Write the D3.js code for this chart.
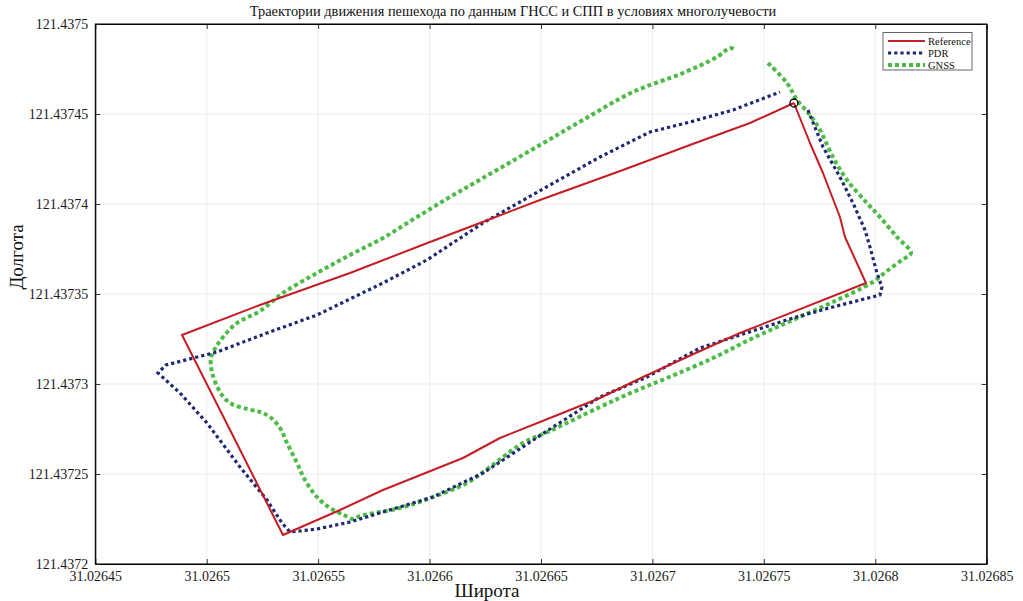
<!DOCTYPE html>
<html><head><meta charset="utf-8">
<script src="https://cdn.jsdelivr.net/npm/d3@7"></script>
<style>html,body{margin:0;padding:0;background:#fff;}svg{display:block;}</style>
</head><body>
<svg id="c" width="1023" height="601"></svg>
<script>
const xTicks = [31.02645, 31.0265, 31.02655, 31.0266, 31.02665, 31.0267, 31.02675, 31.0268, 31.02685];
const xTickLabels = ["31.02645","31.0265","31.02655","31.0266","31.02665","31.0267","31.02675","31.0268","31.02685"];
const yTicks = [121.4372, 121.43725, 121.4373, 121.43735, 121.4374, 121.43745, 121.4375];
const yTickLabels = ["121.4372","121.43725","121.4373","121.43735","121.4374","121.43745","121.4375"];
const seriesNames = ["Reference", "PDR", "GNSS"];

const refLat = [31.02676351,31.02677069,31.02677653,31.02678415,31.0267864,31.02679582,31.02673928,31.0267155,31.02669576,31.02667646,31.02665403,31.02663159,31.02661499,31.02657909,31.0265598,31.02653422,31.0265082,31.0264889,31.0265239,31.02656429,31.02660018,31.02662262,31.02664954,31.02668678,31.02671685,31.02674377,31.02676351];
const refLon = [121.43745611,121.43743389,121.43741722,121.43739278,121.43738167,121.43735611,121.43732833,121.437315,121.43730389,121.43729222,121.43728111,121.437270,121.43725889,121.43724111,121.437230,121.43721611,121.43728,121.43732722,121.43734389,121.43736167,121.43737889,121.43738944,121.43740222,121.43741889,121.43743278,121.437445,121.43745611];

const pdrLat = [31.02676979,31.02677653,31.02678415,31.02678999,31.02679537,31.02679762,31.02680076,31.026803,31.0268021,31.02678101,31.02676306,31.02673928,31.02672134,31.02669755,31.02667646,31.02665403,31.02663159,31.02662397,31.02660153,31.02657909,31.02656429,31.02654948,31.02654185,31.02653736,31.02653377,31.02652704,31.02651493,31.02650012,31.02648801,31.02647813,31.02648172,31.02650461,31.02652704,31.02654948,31.02657909,31.02659884,31.02662397,31.02665403,31.02667646,31.0266989,31.02671685,31.02673614,31.02675723];
const pdrLon = [121.43745222,121.43743167,121.437415,121.43740056,121.43738556,121.43737611,121.43736167,121.43735389,121.43734944,121.43734278,121.43733667,121.43732722,121.43732,121.43730389,121.43729278,121.437275,121.43725667,121.43725056,121.43723722,121.43722889,121.43722333,121.43721944,121.43721833,121.43721778,121.43722278,121.43723556,121.43725389,121.43727833,121.437295,121.43730611,121.43731056,121.43731778,121.43732833,121.43733833,121.43735611,121.43736889,121.43738944,121.43741056,121.43742611,121.43744,121.43744556,121.43745222,121.43746222];

const gnssLat = [31.02675185,31.02676038,31.02676486,31.02677069,31.02677518,31.02678101,31.0267873,31.02679627,31.0268021,31.02680973,31.02681601,31.02681198,31.02680524,31.02679896,31.02678101,31.02676306,31.02674512,31.02672717,31.02670653,31.02669127,31.02667646,31.02665403,31.02664191,31.02662711,31.02661679,31.02660153,31.02658672,31.02656877,31.02656563,31.02656159,31.02655531,31.02654948,31.0265441,31.02654051,31.02653602,31.02653288,31.02652839,31.0265239,31.02651807,31.02651044,31.02650595,31.02650236,31.02650192,31.02650416,31.02650775,31.02651358,31.0265239,31.02653422,31.02654948,31.02656429,31.02657909,31.02659435,31.02660916,31.02662397,31.02664954,31.02666884,31.02669127,31.02671371,31.02672896,31.0267348,31.02673704];
const gnssLon = [121.43747833,121.43746722,121.43745778,121.43744944,121.43744111,121.43742611,121.43741333,121.43740056,121.43739278,121.43738167,121.43737278,121.43736889,121.43736278,121.43735667,121.43734556,121.43733556,121.43732556,121.43731444,121.43730333,121.43729556,121.43728722,121.43727389,121.43726722,121.43725389,121.437245,121.43723722,121.43723111,121.43722667,121.437225,121.43722722,121.43723111,121.43723722,121.43724667,121.43725611,121.43726722,121.43727556,121.43728167,121.43728444,121.43728611,121.43728944,121.43729556,121.43730667,121.43731444,121.43732056,121.43732667,121.43733389,121.43734056,121.43735056,121.43736167,121.43737167,121.43738111,121.43739278,121.43740389,121.43741444,121.43743278,121.43744667,121.43746222,121.43747278,121.43748167,121.43748667,121.43748556];

const startLat = [31.02676351];
const startLon = [121.43745611];

const svg = d3.select("#c");
const L = 95.3, R = 986.7, T = 24, B = 564;
const x = d3.scaleLinear().domain([31.02645, 31.02685]).range([L, R]);
const y = d3.scaleLinear().domain([121.4372, 121.4375]).range([B, T]);
const font = "'Liberation Serif','Times New Roman',serif";

// grid
const g = svg.append("g");
g.selectAll(".gx").data(xTicks).enter().append("line")
  .attr("x1", d => x(d)).attr("x2", d => x(d)).attr("y1", T).attr("y2", B)
  .attr("stroke", "#ececec").attr("stroke-width", 1);
g.selectAll(".gy").data(yTicks).enter().append("line")
  .attr("y1", d => y(d)).attr("y2", d => y(d)).attr("x1", L).attr("x2", R)
  .attr("stroke", "#ececec").attr("stroke-width", 1);

// axes
const xb = d3.axisBottom(x).tickValues(xTicks).tickFormat((d, i) => xTickLabels[i]).tickSizeInner(-5).tickSizeOuter(0).tickPadding(7);
const xt = d3.axisTop(x).tickValues(xTicks).tickFormat("").tickSizeInner(-5).tickSizeOuter(0);
const yl = d3.axisLeft(y).tickValues(yTicks).tickFormat((d, i) => yTickLabels[i]).tickSizeInner(-5).tickSizeOuter(0).tickPadding(7);
const yr = d3.axisRight(y).tickValues(yTicks).tickFormat("").tickSizeInner(-5).tickSizeOuter(0);
function style(sel) {
  sel.select(".domain").attr("stroke", "#000");
  sel.selectAll(".tick line").attr("stroke", "#333");
  sel.selectAll("text").attr("font-family", font).attr("font-size", 14).attr("fill", "#1a1a1a");
}
svg.append("g").attr("transform", `translate(0,${B})`).call(xb).call(style);
svg.append("g").attr("transform", `translate(0,${T})`).call(xt).call(style);
svg.append("g").attr("transform", `translate(${L},0)`).call(yl).call(style);
svg.append("g").attr("transform", `translate(${R},0)`).call(yr).call(style);
svg.append("rect").attr("x", L).attr("y", T).attr("width", R - L).attr("height", B - T)
  .attr("fill", "none").attr("stroke", "#000").attr("stroke-width", 1);

// lines
const lineLin = d3.line().x(d => x(d[0])).y(d => y(d[1])).curve(d3.curveLinear);
const lineSmooth = d3.line().x(d => x(d[0])).y(d => y(d[1])).curve(d3.curveCatmullRom.alpha(0.5));
const ref = d3.zip(refLat, refLon), pdr = d3.zip(pdrLat, pdrLon), gnss = d3.zip(gnssLat, gnssLon);

svg.append("path").datum(gnss).attr("d", lineSmooth).attr("fill", "none")
  .attr("stroke", "#4cbb46").attr("stroke-width", 4).attr("stroke-dasharray", "4,3");
svg.append("path").datum(pdr).attr("d", lineLin).attr("fill", "none")
  .attr("stroke", "#1f2870").attr("stroke-width", 3.2).attr("stroke-dasharray", "3.2,3");
svg.append("path").datum(ref).attr("d", lineLin).attr("fill", "none")
  .attr("stroke", "#c41e24").attr("stroke-width", 2).attr("stroke-linejoin", "round");

svg.selectAll(".start").data(d3.zip(startLat, startLon)).enter().append("circle")
  .attr("cx", d => x(d[0])).attr("cy", d => y(d[1])).attr("r", 4)
  .attr("fill", "none").attr("stroke", "#000").attr("stroke-width", 1.3);

// title & labels
svg.append("text").attr("x", 513).attr("y", 16).attr("text-anchor", "middle")
  .attr("font-family", font).attr("font-size", 14.4).attr("fill", "#111")
  .text("Траектории движения пешехода по данным ГНСС и СПП в условиях многолучевости");
svg.append("text").attr("x", 487).attr("y", 597).attr("text-anchor", "middle")
  .attr("font-family", font).attr("font-size", 19).attr("fill", "#111").text("Широта");
svg.append("text").attr("transform", "translate(23,257) rotate(-90)").attr("text-anchor", "middle")
  .attr("font-family", font).attr("font-size", 19).attr("fill", "#111").text("Долгота");

// legend
const lg = svg.append("g");
lg.append("rect").attr("x", 883).attr("y", 32.5).attr("width", 89).attr("height", 37.5)
  .attr("fill", "#fff").attr("stroke", "#666").attr("stroke-width", 1);
const lgStyles = [
  {c: "#c41e24", w: 2, d: null},
  {c: "#1f2870", w: 3.2, d: "3.2,3"},
  {c: "#4cbb46", w: 4, d: "4,3"}
];
seriesNames.forEach((n, i) => {
  const yy = 41 + i * 12;
  const l = lg.append("line").attr("x1", 888).attr("x2", 925).attr("y1", yy).attr("y2", yy)
    .attr("stroke", lgStyles[i].c).attr("stroke-width", lgStyles[i].w);
  if (lgStyles[i].d) l.attr("stroke-dasharray", lgStyles[i].d);
  lg.append("text").attr("x", 928).attr("y", yy + 3.5).attr("font-family", font)
    .attr("font-size", 10.5).attr("fill", "#111").text(n);
});
</script>
</body></html>
